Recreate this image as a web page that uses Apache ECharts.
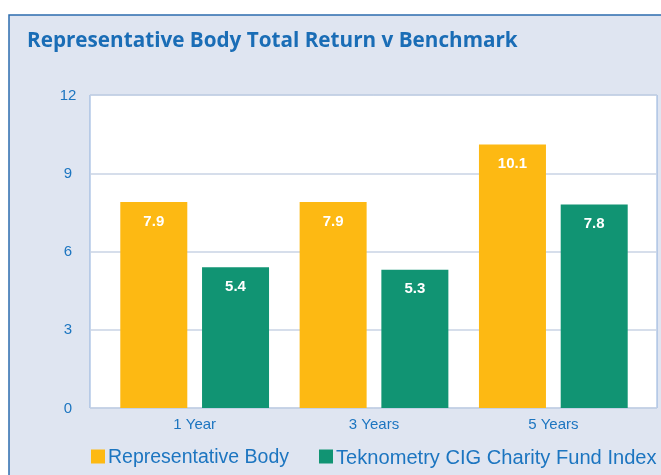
<!DOCTYPE html>
<html>
<head>
<meta charset="utf-8">
<script src="https://cdn.jsdelivr.net/npm/echarts@6/dist/echarts.min.js"></script>
<style>
  html, body { margin: 0; padding: 0; background: #fff; }
  #chart { width: 661px; height: 475px; }
</style>
</head>
<body>
<div id="chart"></div>
<script>
// chart data
const categories = ['1 Year', '3 Years', '5 Years'];
const representativeBody = [7.9, 7.9, 10.1];
const charityFundIndex = [5.4, 5.3, 7.8];
const seriesNames = ['Representative Body', 'Teknometry CIG Charity Fund Index'];

const textBlue = '#1c75c0';

const chart = echarts.init(document.getElementById('chart'));

const valueLabel = {
  show: true,
  position: 'insideTop',
  distance: 12,
  color: '#fff',
  fontFamily: 'Liberation Sans, Arial',
  fontWeight: 'bold',
  fontSize: 15
};

const legendFont = { color: textBlue, fontFamily: 'Liberation Sans, Arial' };

chart.setOption({
  animation: false,
  title: {
    text: 'Representative Body Total Return v Benchmark',
    left: 22,
    top: 26,
    textStyle: {
      color: '#1a6db6',
      fontFamily: 'Open Sans',
      fontWeight: 'bold',
      fontSize: 20.7
    }
  },
  graphic: [{
    type: 'rect',
    z: -10,
    shape: { x: 9, y: 15, width: 660, height: 470 },
    style: { fill: '#dfe5f1', stroke: '#2c6cae', lineWidth: 1.5 }
  }],
  legend: {
    top: 443,
    left: 86,
    width: 700,
    itemWidth: 14,
    itemHeight: 14,
    itemGap: 30,
    icon: 'rect',
    formatter: name => (name === seriesNames[1] ? '{b|' : '{a|') + name + '}',
    textStyle: {
      color: textBlue,
      fontFamily: 'Liberation Sans, Arial',
      fontSize: 19.5,
      padding: [3, 0, 0, -2],
      rich: {
        a: Object.assign({ fontSize: 19.5 }, legendFont),
        b: Object.assign({ fontSize: 20.1 }, legendFont)
      }
    },
    data: seriesNames
  },
  // grid 0 is the white frame with split lines, grid 1 holds the bars
  grid: [
    { left: 90, top: 95, width: 567, height: 313, show: true,
      backgroundColor: '#fff', borderColor: '#8eaedb', borderWidth: 1 },
    { left: 105, top: 95, width: 538, height: 313 }
  ],
  xAxis: [
    { gridIndex: 0, type: 'category', data: categories, show: false },
    {
      gridIndex: 1,
      type: 'category',
      data: categories,
      axisLine: { show: false },
      axisTick: { show: false },
      axisLabel: {
        color: textBlue,
        fontFamily: 'Liberation Sans, Arial',
        fontSize: 15,
        margin: 9
      }
    }
  ],
  yAxis: [
    {
      gridIndex: 0,
      type: 'value',
      min: 0,
      max: 12,
      interval: 3,
      axisLine: { show: false },
      axisTick: { show: false },
      axisLabel: {
        color: textBlue,
        fontFamily: 'Liberation Sans, Arial',
        fontSize: 15,
        align: 'center',
        margin: 22,
        verticalAlign: 'bottom',
        padding: [0, 0, -8, 0]
      },
      splitLine: { lineStyle: { color: '#c8d3e4', width: 1.5 } }
    },
    { gridIndex: 1, type: 'value', min: 0, max: 12, interval: 3, show: false }
  ],
  series: [
    {
      name: seriesNames[0],
      type: 'bar',
      xAxisIndex: 1,
      yAxisIndex: 1,
      data: representativeBody,
      barWidth: 67,
      barGap: '22%',
      itemStyle: { color: '#fdb913' },
      label: valueLabel
    },
    {
      name: seriesNames[1],
      type: 'bar',
      xAxisIndex: 1,
      yAxisIndex: 1,
      data: charityFundIndex,
      barWidth: 67,
      itemStyle: { color: '#119473' },
      label: valueLabel
    }
  ]
});
</script>
</body>
</html>
